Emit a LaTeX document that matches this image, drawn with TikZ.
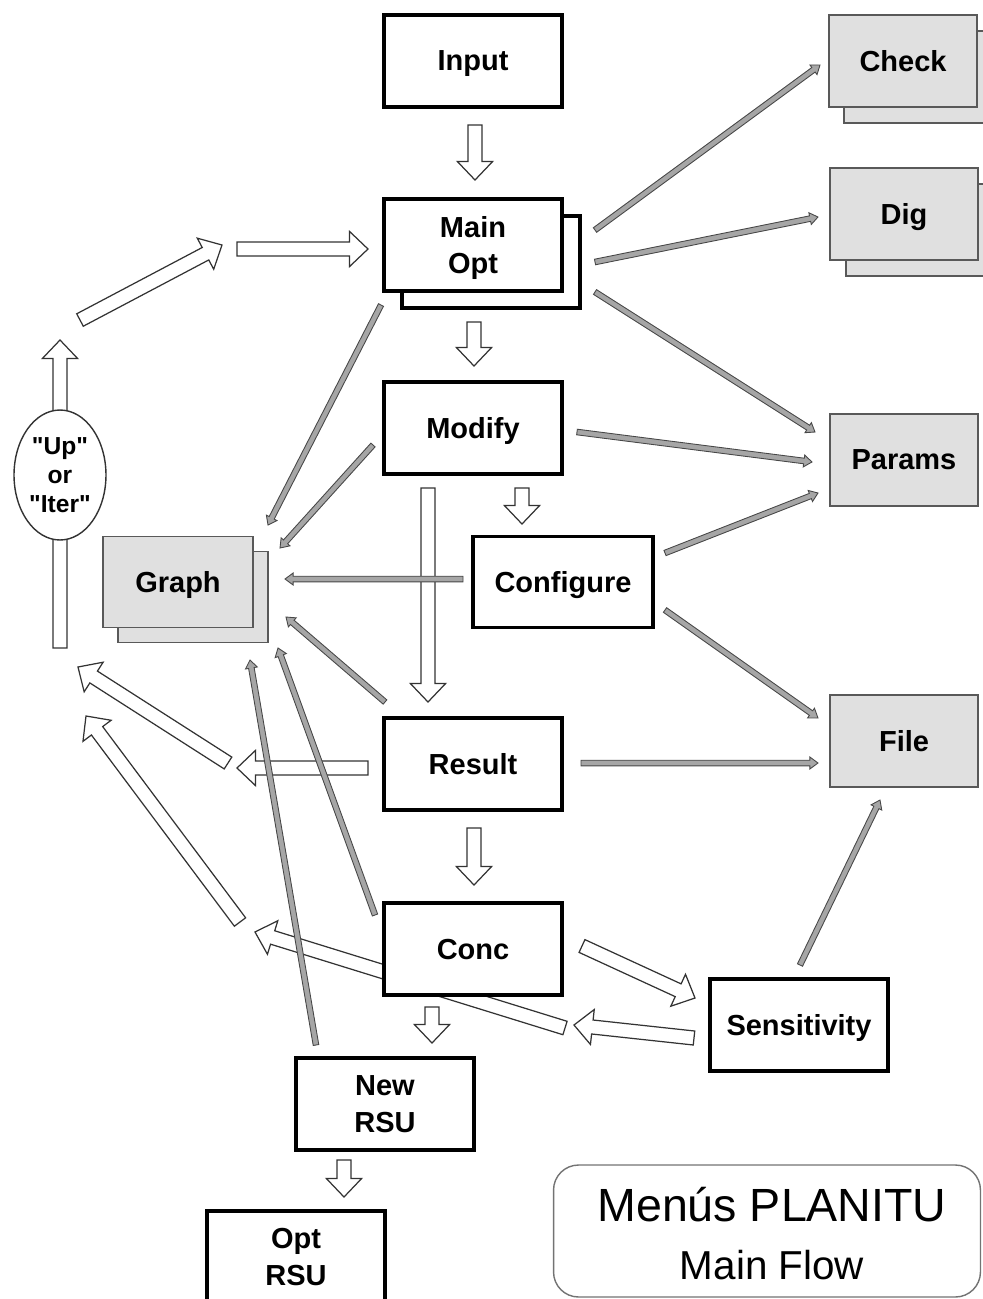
\documentclass[tikz,border=0pt]{standalone}
\usepackage{fontspec}
\setmainfont{Liberation Sans}
\newfontfamily\plainsans{Liberation Sans}[Ligatures=TeXOff]
\usetikzlibrary{calc,shapes.geometric}

% Block arrow drawn as a polygon between two points:
% #1 style, #2 tail, #3 tip, #4 half shaft width, #5 half head width, #6 head length
\newcommand\flowarrow[6]{%
  \path[#1] let \p1=(#2), \p2=(#3),
      \n1={atan2(\y2-\y1,\x2-\x1)}, \n2={veclen(\x2-\x1,\y2-\y1)} in
    ($(\p1)+({\n1+90}:#4)$)
    -- ($(\p1)+({\n1}:{\n2-#6})+({\n1+90}:#4)$)
    -- ($(\p1)+({\n1}:{\n2-#6})+({\n1+90}:#5)$)
    -- (\p2)
    -- ($(\p1)+({\n1}:{\n2-#6})+({\n1-90}:#5)$)
    -- ($(\p1)+({\n1}:{\n2-#6})+({\n1-90}:#4)$)
    -- ($(\p1)+({\n1-90}:#4)$) -- cycle;}
\newcommand\bigarrow[2]{\flowarrow{bigarr}{#1}{#2}{4pt}{10pt}{10.5pt}}
\newcommand\thinarrow[2]{\flowarrow{thinarr}{#1}{#2}{1.6pt}{3.4pt}{4.6pt}}

\tikzset{
  boxfont/.style={font=\bfseries\fontsize{16.5}{21}\selectfont},
  blackbox/.style={boxfont, draw=black, line width=2.2pt, fill=white,
    minimum width=3.56cm, minimum height=1.84cm, align=center, inner sep=0pt,
    text depth=0pt},
  greybox/.style={boxfont, draw=black!65, line width=1.1pt, fill=black!12,
    minimum width=2.96cm, minimum height=1.84cm, align=center, inner sep=0pt,
    text depth=0pt},
  bigarr/.style={draw=black!80, line width=0.7pt, fill=white, line join=miter},
  thinarr/.style={draw=black!72, line width=0.5pt, fill=black!35, line join=miter},
}

\begin{document}
\begin{tikzpicture}[x=0.02cm, y=-0.02cm]
\useasboundingbox (0,0) rectangle (983,1299);
\clip (0,0) rectangle (983,1299);

% ---- ends of the block arrows ----
\coordinate (inTail) at (475,125);   \coordinate (inTip) at (475,180);
\coordinate (moTail) at (474,322);   \coordinate (moTip) at (474,366);
\coordinate (mdTail) at (522,488);   \coordinate (mdTip) at (522,524);
\coordinate (longTail) at (428,488); \coordinate (longTip) at (428,702);
\coordinate (rsTail) at (474,828);   \coordinate (rsTip) at (474,885);
\coordinate (ccTail) at (432,1007);  \coordinate (ccTip) at (432,1043);
\coordinate (nrTail) at (344,1160);  \coordinate (nrTip) at (344,1197);
\coordinate (upTail) at (60,648);    \coordinate (upTip) at (60,340);
\coordinate (dgTail) at (80,320);    \coordinate (dgTip) at (222,245);
\coordinate (hzTail) at (237,249);   \coordinate (hzTip) at (368,249);
\coordinate (rlTail) at (368,768);   \coordinate (rlTip) at (237,768);
\coordinate (l1Tail) at (228,763);   \coordinate (l1Tip) at (78,667);
\coordinate (l2Tail) at (240,922);   \coordinate (l2Tip) at (86,716);
\coordinate (l3Tail) at (565,1028);  \coordinate (l3Tip) at (255,932);
\coordinate (csTail) at (582,946);   \coordinate (csTip) at (695,998);
\coordinate (scTail) at (694,1038);  \coordinate (scTip) at (574,1025);

\bigarrow{inTail}{inTip}
\bigarrow{moTail}{moTip}
\bigarrow{mdTail}{mdTip}
\bigarrow{longTail}{longTip}
\bigarrow{rsTail}{rsTip}
\bigarrow{ccTail}{ccTip}
\bigarrow{nrTail}{nrTip}
\bigarrow{upTail}{upTip}
\bigarrow{dgTail}{dgTip}
\bigarrow{hzTail}{hzTip}
\bigarrow{rlTail}{rlTip}
\bigarrow{l1Tail}{l1Tip}
\bigarrow{l2Tail}{l2Tip}
\bigarrow{l3Tail}{l3Tip}
\bigarrow{csTail}{csTip}
\bigarrow{scTail}{scTip}

% ---- loop ellipse ----
\node[ellipse, draw=black!80, line width=0.8pt, fill=white, minimum width=1.84cm,
  minimum height=2.6cm, inner sep=0pt, align=center,
  font=\plainsans\bfseries\fontsize{14}{16.5}\selectfont] (loop) at (60,475) {"Up"\\or\\"Iter"};

% ---- black boxes ----
\node[blackbox] (input) at (473,61) {Input};
\node[blackbox] (mainback) at (491,262) {};
\node[blackbox] (mainopt) at (473,245) {Main\\Opt};
\node[blackbox] (modify) at (473,428) {Modify};
\node[blackbox, minimum width=3.6cm, minimum height=1.82cm] (configure) at (563,582) {Configure};
\node[blackbox] (result) at (473,764) {Result};
\node[blackbox] (conc) at (473,949) {Conc};
\node[blackbox] (newrsu) at (385,1104) {New\\RSU};
\node[blackbox] (optrsu) at (296,1257) {Opt\\RSU};
\node[blackbox] (sens) at (799,1025) {Sensitivity};

% ---- grey boxes ----
\node[greybox] (checkback) at (918,77) {};
\node[greybox] (check) at (903,61) {Check};
\node[greybox] (digback) at (920,230) {};
\node[greybox] (dig) at (904,214) {Dig};
\node[greybox] (params) at (904,460) {Params};
\node[greybox] (file) at (904,741) {File};
\node[greybox, minimum width=3.0cm, minimum height=1.82cm] (graphback) at (193,597) {};
\node[greybox, minimum width=3.0cm, minimum height=1.82cm] (graph) at (178,582) {Graph};

% ---- ends of the thin arrows ----
\coordinate (ckTail) at (595,230);   \coordinate (ckTip) at (820,65);
\coordinate (dgTailB) at (595,262);  \coordinate (dgTipB) at (818,217);
\coordinate (p1Tail) at (595,292);   \coordinate (p1Tip) at (815,432);
\coordinate (p2Tail) at (577,432);   \coordinate (p2Tip) at (812,462);
\coordinate (p3Tail) at (665,553);   \coordinate (p3Tip) at (818,493);
\coordinate (f1Tail) at (665,610);   \coordinate (f1Tip) at (818,718);
\coordinate (f2Tail) at (581,763);   \coordinate (f2Tip) at (818,763);
\coordinate (f3Tail) at (800,965);   \coordinate (f3Tip) at (880,800);
\coordinate (g1Tail) at (381,305);   \coordinate (g1Tip) at (268,525);
\coordinate (g2Tail) at (373,445);   \coordinate (g2Tip) at (280,548);
\coordinate (g3Tail) at (463,579);   \coordinate (g3Tip) at (285,579);
\coordinate (g4Tail) at (385,702);   \coordinate (g4Tip) at (286,617);
\coordinate (g5Tail) at (375,915);   \coordinate (g5Tip) at (278,648);
\coordinate (g6Tail) at (316,1045);  \coordinate (g6Tip) at (250,660);

\thinarrow{ckTail}{ckTip}
\thinarrow{dgTailB}{dgTipB}
\thinarrow{p1Tail}{p1Tip}
\thinarrow{p2Tail}{p2Tip}
\thinarrow{p3Tail}{p3Tip}
\thinarrow{f1Tail}{f1Tip}
\thinarrow{f2Tail}{f2Tip}
\thinarrow{f3Tail}{f3Tip}
\thinarrow{g1Tail}{g1Tip}
\thinarrow{g2Tail}{g2Tip}
\thinarrow{g3Tail}{g3Tip}
\thinarrow{g4Tail}{g4Tip}
\thinarrow{g5Tail}{g5Tip}
\thinarrow{g6Tail}{g6Tip}

% ---- title ----
\node[draw=black!55, line width=0.8pt, rounded corners=0.5cm, fill=white,
  minimum width=8.54cm, minimum height=2.64cm] (titlebox) at (767,1231) {};
\node[font=\fontsize{26.5}{30}\selectfont] (title) at (772,1205) {Menús PLANITU};
\node[font=\fontsize{23}{27}\selectfont] (subtitle) at (772,1265) {Main Flow};
\end{tikzpicture}
\end{document}
